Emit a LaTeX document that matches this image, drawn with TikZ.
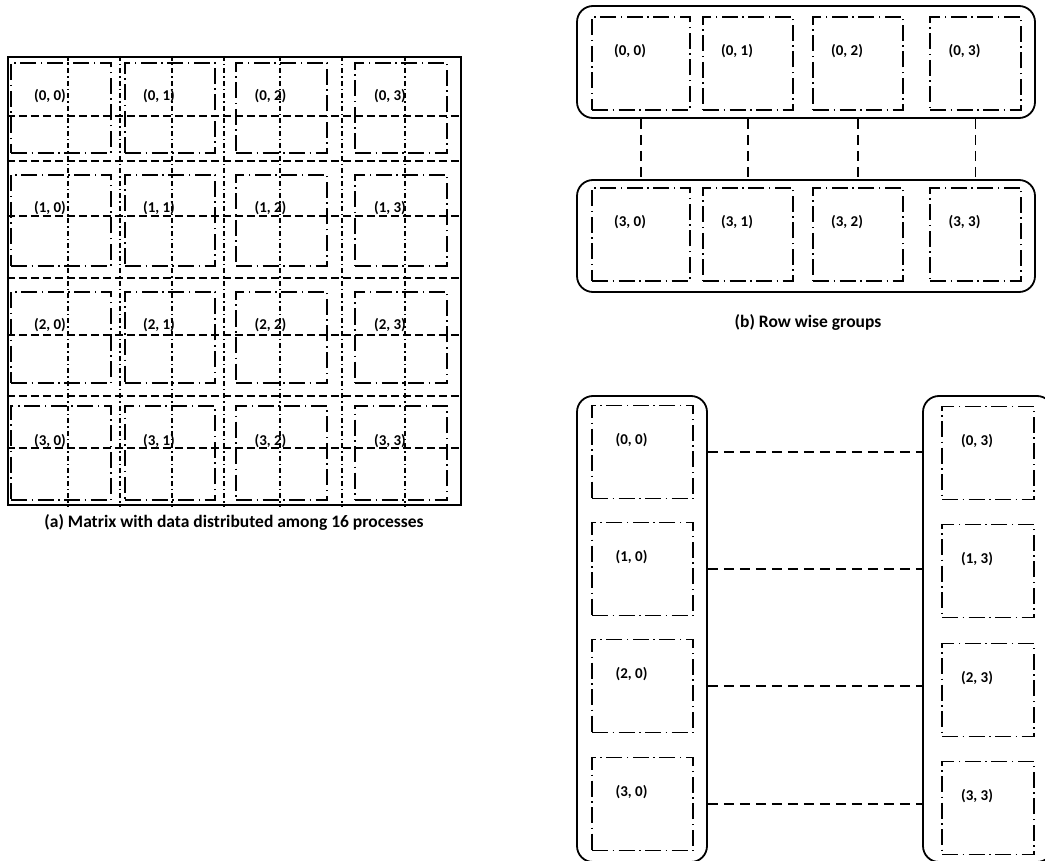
\documentclass[tikz,border=0pt]{standalone}
\usepackage{fontspec}
\setmainfont{Carlito}
\usetikzlibrary{positioning}

\begin{document}
\begin{tikzpicture}[
    x=1pt, y=-1pt,
    lbl/.style={font=\fontsize{15}{17}\selectfont\bfseries, inner sep=0pt},
    tag/.style={label={[lbl, xshift=-11pt, yshift=12pt]center:{#1}}},
    blk/.style={draw, line width=1.6pt, dash pattern=on 16pt off 4.5pt on 1.5pt off 4.5pt,
                minimum width=#1, minimum height=93pt, inner sep=0pt},
    grp/.style={draw, line width=1.8pt, rounded corners=16pt, inner sep=0pt},
    mat/.style={draw, line width=2.2pt, minimum width=453pt, minimum height=448pt, inner sep=0pt},
    gridh/.style={line width=1.4pt, dash pattern=on 8pt off 4pt},
    gridv/.style={line width=1.3pt, dash pattern=on 5pt off 3pt on 1.5pt off 3pt},
    link/.style={line width=1.4pt, dash pattern=on 10pt off 6pt},
    captext/.style={font=\fontsize{17.5}{20}\selectfont\bfseries}
]
\useasboundingbox (0,0) rectangle (1045,861);

% (a) full matrix
\node[mat] (mat) at (234.5,281) {};
\foreach \y in {116,161,216,278,335,396,448}
  \draw[gridh] (mat.west |- 0,\y) -- (mat.east |- 0,\y);
\foreach \x in {68,120,172,224,280,342,405}
  \draw[gridv] (mat.north -| \x,0) -- (mat.south -| \x,0);
\foreach \c/\x/\w in {0/61/100pt, 1/170/90pt, 2/281.5/91pt, 3/401/92pt}
  \foreach \r/\y/\h in {0/108/90pt, 1/220.5/91pt, 2/337.5/91pt, 3/453/94pt}
    \node[blk=\w, minimum height=\h, tag={(\r, \c)}] (p\r\c) at (\x,\y) {};
\node[captext] (capa) at (234,522) {(a) Matrix with data distributed among 16 processes};

% (b) row wise groups
\node[grp, minimum width=458pt, minimum height=112pt] (rowa) at (806,62) {};
\node[grp, minimum width=458pt, minimum height=112pt] (rowb) at (806,236) {};
\foreach \j/\x/\w in {0/641/98pt, 1/748/90pt, 2/858/90pt, 3/975.5/91pt} {
  \node[blk=\w, tag={(0, \j)}] (a\j) at (\x,63.5) {};
  \node[blk=\w, tag={(3, \j)}] (b\j) at (\x,234.5) {};
  \draw[link] (a\j |- rowa.south) -- (b\j |- rowb.north);
}
\node[captext] (capb) at (808,322) {(b) Row wise groups};

% (c) column wise groups
\node[grp, minimum width=130pt, minimum height=466pt] (colL) at (642,629) {};
\node[grp, minimum width=130pt, minimum height=466pt] (colR) at (988,629) {};
\foreach \i/\yl/\yr in {0/452/453, 1/569/571, 2/686/690, 3/804/808} {
  \node[blk=101pt, tag={(\i, 0)}] (l\i) at (642.5,\yl) {};
  \node[blk=92pt, tag={(\i, 3)}] (r\i) at (988,\yr) {};
  \draw[link] (l\i -| colL.east) -- (l\i -| colR.west);
}

\end{tikzpicture}
\end{document}
